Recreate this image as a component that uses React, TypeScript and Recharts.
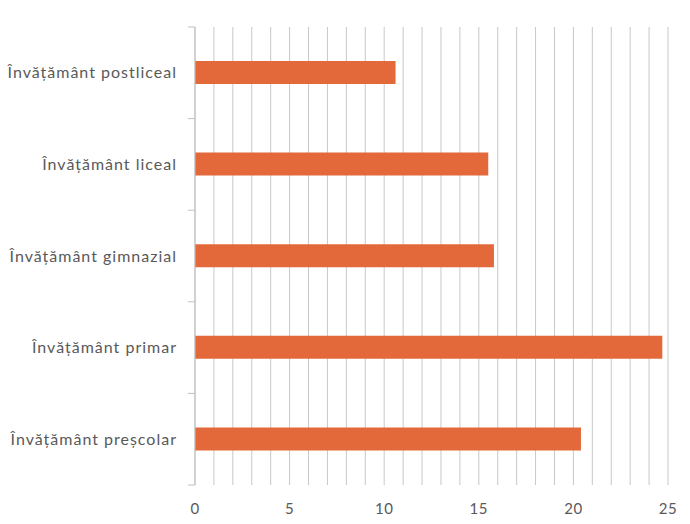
import React from 'react';
import { BarChart, Bar, XAxis, YAxis, CartesianGrid } from 'recharts';

const categories = [
  'Învățământ postliceal',
  'Învățământ liceal',
  'Învățământ gimnazial',
  'Învățământ primar',
  'Învățământ preșcolar',
];
const values = [10.6, 15.5, 15.8, 24.7, 20.4];
const axisTicks = [0, 5, 10, 15, 20, 25];
const gridTicks = [0, 1, 2, 3, 4, 5, 6, 7, 8, 9, 10, 11, 12, 13, 14, 15, 16, 17, 18, 19, 20, 21, 22, 23, 24, 25];

const data = categories.map((name, i) => ({ name, value: values[i] }));

const W = 690;
const H = 524;
const TOP = 27;
const XAXIS_H = 30;
const BOTTOM = 39 - XAXIS_H;
const plotH = H - TOP - BOTTOM - XAXIS_H;
const band = plotH / categories.length;
const textColor = '#595959';
const font = 'Lato, sans-serif';

// label at the band centre, small tick marks at the band edges (Excel style)
const CategoryTick = (props: any) => {
  const { x, y, payload, index } = props;
  const axisX = x + 18;
  const isLast = index === categories.length - 1;
  return (
    <g>
      <line x1={axisX - 7} x2={axisX} y1={y - band / 2} y2={y - band / 2} stroke="#bfbfbf" />
      {isLast && <line x1={axisX - 7} x2={axisX} y1={y + band / 2} y2={y + band / 2} stroke="#bfbfbf" />}
      <text
        x={x}
        y={y}
        dy="0.35em"
        textAnchor="end"
        fill={textColor}
        fontSize={16}
        letterSpacing={1}
        fontFamily={font}
      >
        {payload.value}
      </text>
    </g>
  );
};

const gridCoords = ({ xAxis, offset }: any) =>
  gridTicks.map((t) =>
    xAxis && typeof xAxis.scale === 'function'
      ? xAxis.scale(t)
      : offset.left + (t / 25) * offset.width
  );

export default function App() {
  return (
    <div style={{ position: 'absolute', left: 0, top: 0, width: W, height: H, background: '#fff' }}>
      <BarChart
        width={W}
        height={H}
        data={data}
        layout="vertical"
        barCategoryGap="37%"
        margin={{ top: TOP, right: 22, bottom: BOTTOM, left: 0 }}
      >
        <CartesianGrid horizontal={false} verticalCoordinatesGenerator={gridCoords} stroke="#c8c8c8" />
        <XAxis
          type="number"
          dataKey="value"
          domain={[0, 25]}
          ticks={axisTicks}
          height={XAXIS_H}
          axisLine={false}
          tickLine={false}
          tickMargin={12}
          tick={{ fill: textColor, fontSize: 15, fontFamily: font, letterSpacing: 0.5 }}
        />
        <YAxis
          type="category"
          dataKey="name"
          width={195}
          axisLine={{ stroke: '#bfbfbf' }}
          tickLine={false}
          tickSize={0}
          tickMargin={18}
          tick={<CategoryTick />}
        />
        <Bar dataKey="value" fill="#e4693a" barSize={23} isAnimationActive={false} />
      </BarChart>
    </div>
  );
}
